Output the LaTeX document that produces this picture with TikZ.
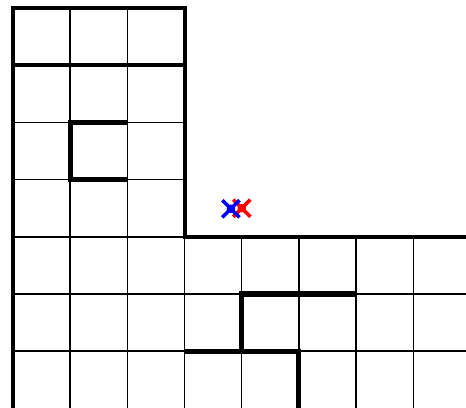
\documentclass[tikz,border=0pt]{standalone}
\usepackage{tikz}
\usetikzlibrary{calc}

\newcommand{\MarkCross}[3][.15]% #1=half size (optional), #2=colour, #3=point
{\draw[#2, line width=1.8pt] ($(#3)+(-#1,-#1)$) -- ($(#3)+(#1,#1)$)
   ($(#3)+(-#1,#1)$) -- ($(#3)+(#1,-#1)$);
 \fill[#2] (#3) circle (0.075);
}

\begin{document}
\begin{tikzpicture}[thin line/.style={line width=0.7pt},
 wall/.style={line width=2pt, line cap=rect},
 inner wall/.style={line width=2.5pt, line cap=butt}]

    \useasboundingbox (-0.227,0.024) rectangle (7.92,7.14);

    % grid of the two blocks
    \draw[thin line] (0,3) grid (3,7);
    \draw[thin line] (0,0) grid (8.5,3);

    \coordinate (P) at (3.81,3.49);
    \coordinate (Q) at (4.0,3.5);

    % outer walls
    \draw[wall] (8.5,3) -- (3,3) -- (3,7) -- (0,7) -- (0,0);
    \draw[wall] (0,6) -- (3,6);

    % inner walls
    \draw[inner wall] (2,5) -- (1,5) -- (1,4) -- (2,4);
    \draw[inner wall] (6,2) -- (4,2) -- (4,1);
    \draw[inner wall] (3,1) -- (5,1) -- (5,0);

    \MarkCross{red}{Q}
    \MarkCross{blue}{P}

\end{tikzpicture}
\end{document}
